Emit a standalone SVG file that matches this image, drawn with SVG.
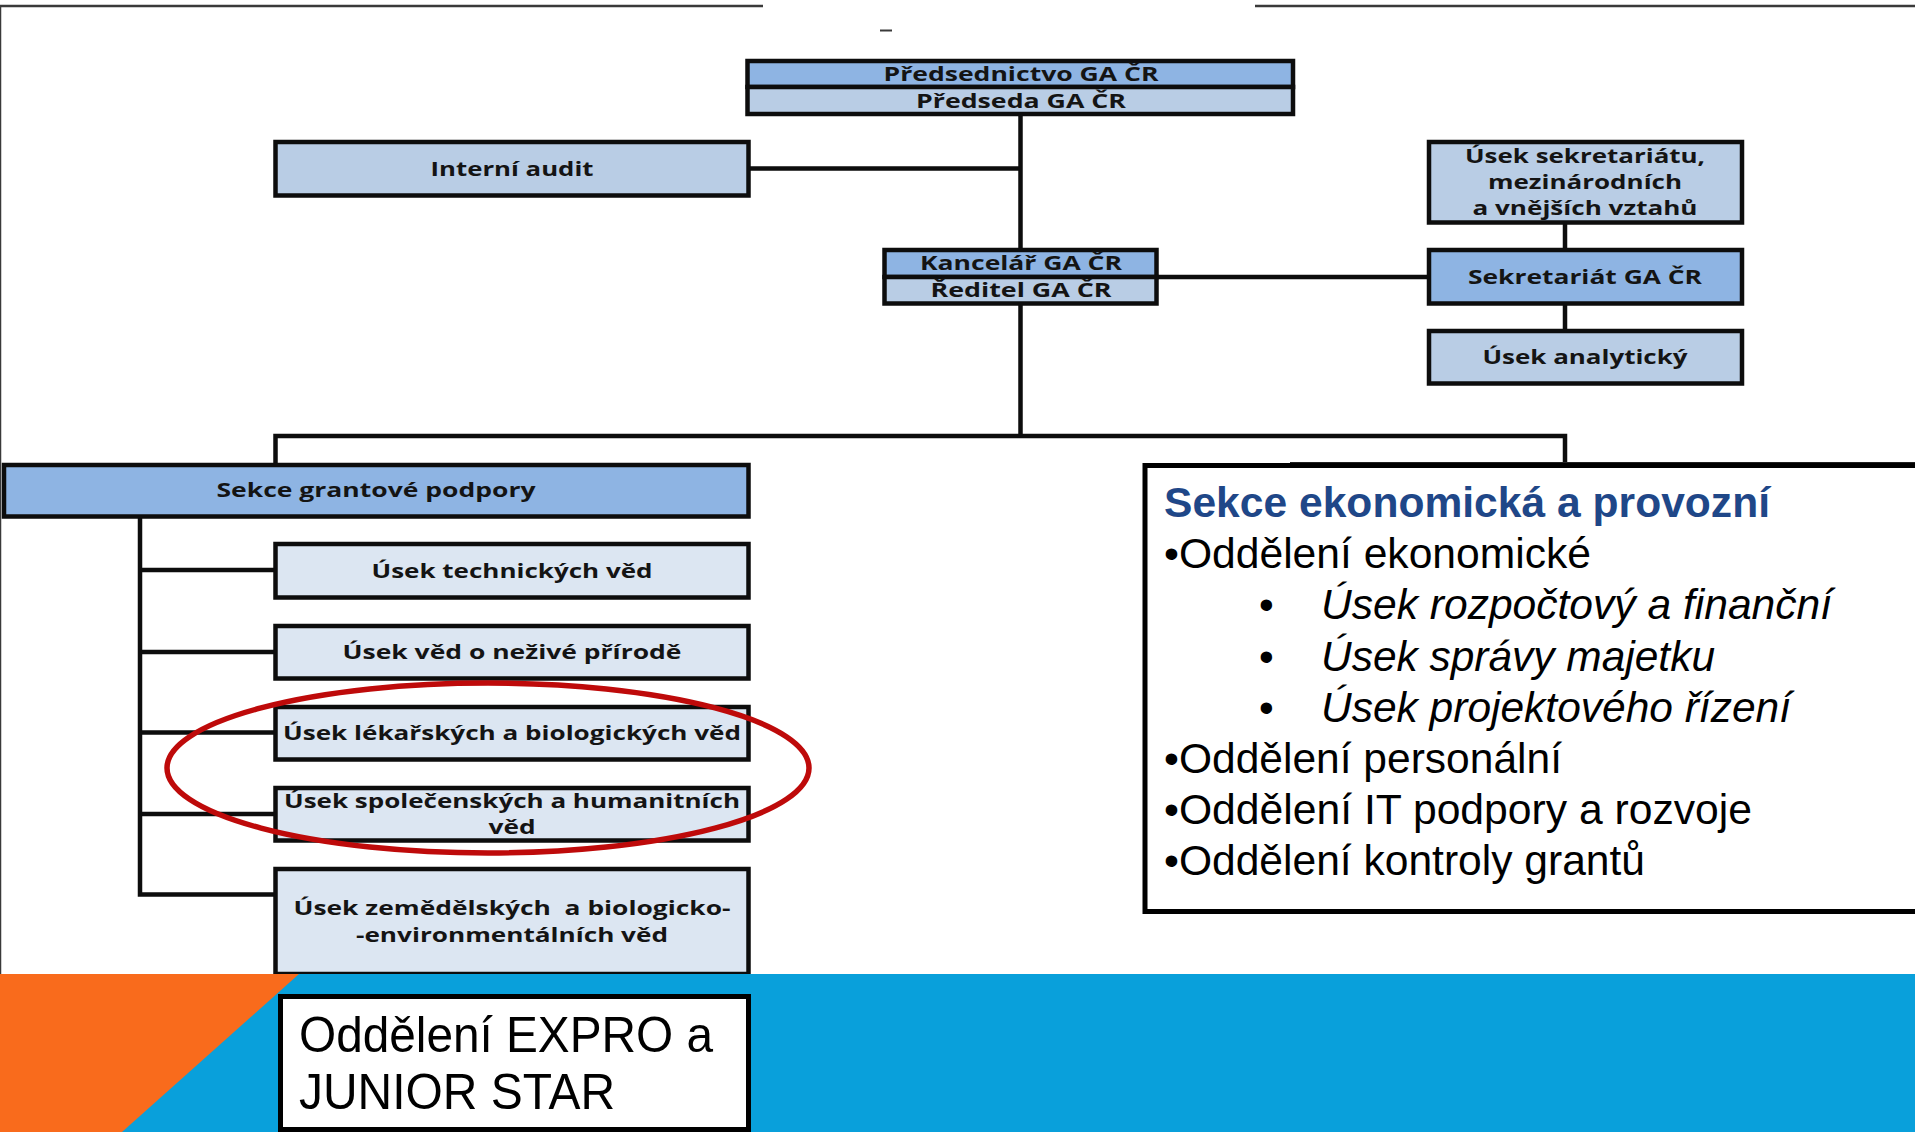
<svg xmlns="http://www.w3.org/2000/svg" width="1915" height="1132" viewBox="0 0 1915 1132">
<style>
.b{stroke:#0d0d0d;stroke-width:4.5}
.m{fill:#8EB4E3}.l{fill:#B9CDE5}.p{fill:#DCE6F2}
.t{font-family:"Open Sans","Liberation Sans",sans-serif;font-weight:700;font-size:19px;fill:#141414;text-anchor:middle;white-space:pre}
.c{fill:none;stroke:#0d0d0d;stroke-width:4.5}
.r{font-family:"Liberation Sans",Arial,sans-serif;font-size:42px;fill:#000;white-space:pre}
.g{font-size:50px}
.i{font-style:italic}
</style>
<rect width="1915" height="1132" fill="#fff"/>
<g id="frame" fill="none" stroke="#3a3a3a">
<path d="M0 6H763M1255 6H1915" stroke-width="2.5"/>
<path d="M0.5 6V975" stroke-width="1.5"/>
<path d="M880 30.500H892" stroke-width="2"/>
</g>
<g id="connectors" class="c">
<path d="M1020.500 115V248M750 168.500H1020M1158 277H1429M1565 224V248M1565 305V329"/>
<path d="M1020.500 305V436M275.500 463V436H1565V463"/>
<path d="M140 518V894.500H275M140 570H275M140 652H275M140 732.500H275M140 814H275"/>
</g>
<g id="n-predsednictvo">
<rect class="b m" x="747.500" y="61" width="545.500" height="26"/><rect class="b l" x="747.500" y="87" width="545.500" height="27"/>
<text class="t" x="1021" y="80.500" textLength="275" lengthAdjust="spacingAndGlyphs">Předsednictvo GA ČR</text>
<text class="t" x="1021" y="107.500" textLength="210" lengthAdjust="spacingAndGlyphs">Předseda GA ČR</text>
</g>
<g id="n-audit"><rect class="b l" x="275.500" y="142" width="473" height="53.500"/>
<text class="t" x="512" y="175.500" textLength="163" lengthAdjust="spacingAndGlyphs">Interní audit</text></g>
<g id="n-usek-sekretariatu"><rect class="b l" x="1429" y="142" width="313" height="80.500"/>
<text class="t" x="1585" y="162.500" textLength="240" lengthAdjust="spacingAndGlyphs">Úsek sekretariátu,</text>
<text class="t" x="1585" y="188.500" textLength="194" lengthAdjust="spacingAndGlyphs">mezinárodních</text>
<text class="t" x="1585" y="214.500" textLength="225" lengthAdjust="spacingAndGlyphs">a vnějších vztahů</text></g>
<g id="n-kancelar">
<rect class="b m" x="884.500" y="250" width="272" height="27"/><rect class="b l" x="884.500" y="277" width="272" height="26.500"/>
<text class="t" x="1021" y="269.500" textLength="202" lengthAdjust="spacingAndGlyphs">Kancelář GA ČR</text>
<text class="t" x="1021" y="296.500" textLength="181" lengthAdjust="spacingAndGlyphs">Ředitel GA ČR</text></g>
<g id="n-sekretariat"><rect class="b m" x="1429" y="250" width="313" height="53.500"/>
<text class="t" x="1585" y="283.500" textLength="234" lengthAdjust="spacingAndGlyphs">Sekretariát GA ČR</text></g>
<g id="n-analyticky"><rect class="b l" x="1429" y="331" width="313" height="52.500"/>
<text class="t" x="1585" y="363.500" textLength="205" lengthAdjust="spacingAndGlyphs">Úsek analytický</text></g>
<g id="n-sekce-grantove"><rect class="b m" x="4" y="465" width="744.500" height="51.500"/>
<text class="t" x="376" y="497" textLength="319" lengthAdjust="spacingAndGlyphs">Sekce grantové podpory</text></g>
<g id="n-technicke"><rect class="b p" x="275.500" y="544" width="473" height="53.500"/>
<text class="t" x="512" y="577.500" textLength="281" lengthAdjust="spacingAndGlyphs">Úsek technických věd</text></g>
<g id="n-nezive"><rect class="b p" x="275.500" y="626" width="473" height="52.500"/>
<text class="t" x="512" y="659" textLength="339" lengthAdjust="spacingAndGlyphs">Úsek věd o neživé přírodě</text></g>
<g id="n-lekarske"><rect class="b p" x="275.500" y="707" width="473" height="52.500"/>
<text class="t" x="512" y="740" textLength="458" lengthAdjust="spacingAndGlyphs">Úsek lékařských a biologických věd</text></g>
<g id="n-spolecenske"><rect class="b p" x="275.500" y="788" width="473" height="52.500"/>
<text class="t" x="512" y="807.500" textLength="456" lengthAdjust="spacingAndGlyphs">Úsek společenských a humanitních</text>
<text class="t" x="512" y="833.500" textLength="47" lengthAdjust="spacingAndGlyphs">věd</text></g>
<g id="n-zemedelske"><rect class="b p" x="275.500" y="869" width="473" height="105"/>
<text class="t" x="512" y="914.500" textLength="437" lengthAdjust="spacingAndGlyphs">Úsek zemědělských  a biologicko-</text>
<text class="t" x="512" y="941.500" textLength="312" lengthAdjust="spacingAndGlyphs">-environmentálních věd</text></g>
<g id="highlight"><ellipse cx="488" cy="768" rx="321" ry="85" fill="none" stroke="#BE0A0A" stroke-width="5.500"/></g>
<g id="n-ekonomicka">
<path d="M1290 463H1915" stroke="#222" stroke-width="2" fill="none"/>
<rect x="1145" y="465.500" width="800" height="446" fill="#fff" stroke="#000" stroke-width="5"/>
<text class="r" x="1164" y="517" font-weight="700" style="fill:#1F4788" textLength="606" lengthAdjust="spacingAndGlyphs">Sekce ekonomická a provozní</text>
<text class="r" x="1164" y="568" textLength="427" lengthAdjust="spacingAndGlyphs">•Oddělení ekonomické</text>
<text class="r" x="1259" y="619">•</text><text class="r i" x="1321" y="619" textLength="511" lengthAdjust="spacingAndGlyphs">Úsek rozpočtový a finanční</text>
<text class="r" x="1259" y="670.500">•</text><text class="r i" x="1321" y="670.500" textLength="394" lengthAdjust="spacingAndGlyphs">Úsek správy majetku</text>
<text class="r" x="1259" y="722">•</text><text class="r i" x="1321" y="722" textLength="470" lengthAdjust="spacingAndGlyphs">Úsek projektového řízení</text>
<text class="r" x="1164" y="773" textLength="398" lengthAdjust="spacingAndGlyphs">•Oddělení personální</text>
<text class="r" x="1164" y="823.500" textLength="588" lengthAdjust="spacingAndGlyphs">•Oddělení IT podpory a rozvoje</text>
<text class="r" x="1164" y="875" textLength="481" lengthAdjust="spacingAndGlyphs">•Oddělení kontroly grantů</text>
</g>
<g id="band"><rect x="0" y="974" width="1915" height="158" fill="#09A0DB"/>
<polygon points="0,974 299,974 122,1132 0,1132" fill="#F96B1C"/></g>
<g id="n-expro"><rect x="280.500" y="996.500" width="468" height="133" fill="#fff" stroke="#000" stroke-width="5"/>
<text class="r g" x="299" y="1052" textLength="414" lengthAdjust="spacingAndGlyphs">Oddělení EXPRO a</text>
<text class="r g" x="299" y="1108.500" textLength="316" lengthAdjust="spacingAndGlyphs">JUNIOR STAR</text></g>
</svg>
